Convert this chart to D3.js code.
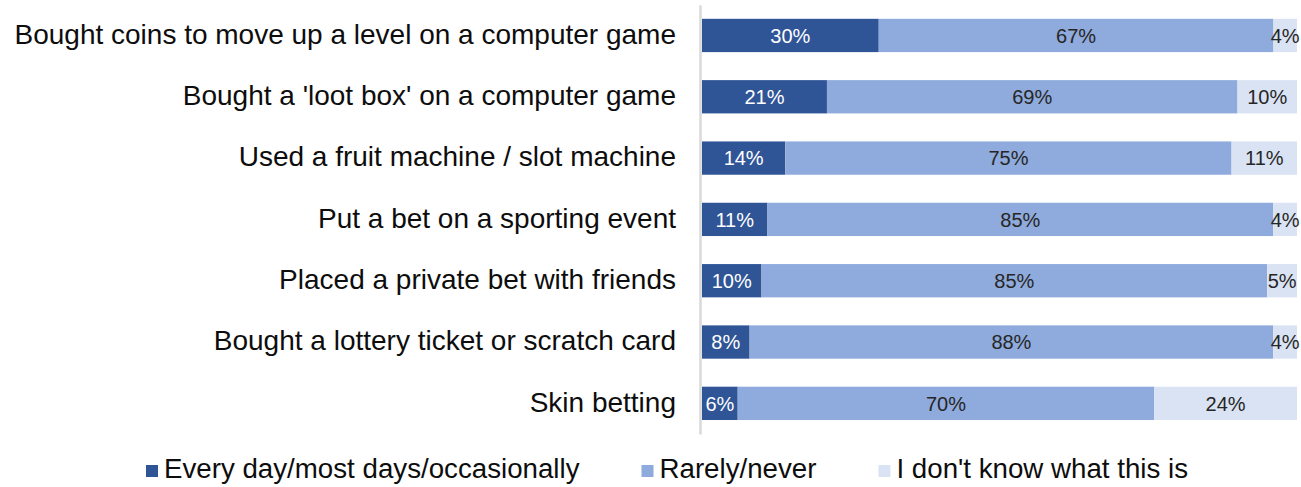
<!DOCTYPE html>
<html>
<head>
<meta charset="utf-8">
<script src="https://cdn.jsdelivr.net/npm/d3@7"></script>
<style>
  html, body { margin: 0; padding: 0; background: #ffffff; }
  svg { display: block; }
  text { font-family: "Liberation Sans", Arial, sans-serif; }
</style>
</head>
<body>
<svg id="chart" width="1301" height="487"></svg>
<script>
// Survey activities (top to bottom)
const categories = [
  "Bought coins to move up a level on a computer game",
  "Bought a 'loot box' on a computer game",
  "Used a fruit machine / slot machine",
  "Put a bet on a sporting event",
  "Placed a private bet with friends",
  "Bought a lottery ticket or scratch card",
  "Skin betting"
];
const seriesNames = [
  "Every day/most days/occasionally",
  "Rarely/never",
  "I don't know what this is"
];
// Percentages per series, one value per category
const everyDay   = [30, 21, 14, 11, 10, 8, 6];
const rarely     = [67, 69, 75, 85, 85, 88, 70];
const dontKnow   = [4, 10, 11, 4, 5, 4, 24];
const seriesColors = ["#2f5597", "#8faadc", "#dae3f3"];
const labelColors  = ["#ffffff", "#262626", "#262626"];

const rows = categories.map((c, i) => ({
  category: c, s0: everyDay[i], s1: rarely[i], s2: dontKnow[i]
}));
const keys = ["s0", "s1", "s2"];

// Rows are shown as shares of 100%, each row filling the full width
const stacked = d3.stack().keys(keys).offset(d3.stackOffsetExpand)(rows);

const svg = d3.select("#chart");

const x = d3.scaleLinear().domain([0, 1]).range([702, 1297]);
const y = d3.scaleBand()
  .domain(categories)
  .range([4.8, 434])
  .paddingInner(0.457)
  .paddingOuter(0.2285);

// Bars
const layers = svg.append("g").selectAll("g")
  .data(stacked)
  .join("g")
  .attr("fill", (d, i) => seriesColors[i]);

layers.selectAll("rect")
  .data(d => d)
  .join("rect")
  .attr("x", d => x(d[0]))
  .attr("y", d => y(d.data.category))
  .attr("width", d => x(d[1]) - x(d[0]))
  .attr("height", y.bandwidth());

// Value labels centred on each segment
const labelLayers = svg.append("g").selectAll("g")
  .data(stacked)
  .join("g")
  .attr("fill", (d, i) => labelColors[i]);

labelLayers.selectAll("text")
  .data(d => d.map(p => ({ p, key: d.key })))
  .join("text")
  .attr("x", d => (x(d.p[0]) + x(d.p[1])) / 2)
  .attr("y", d => y(d.p.data.category) + y.bandwidth() / 2)
  .attr("dy", "0.36em")
  .attr("text-anchor", "middle")
  .attr("font-size", 20)
  .text(d => d.p.data[d.key] + "%");

// Category axis
const yAxis = d3.axisLeft(y).tickSize(0).tickPadding(24);
const axisG = svg.append("g")
  .attr("transform", "translate(700,0)")
  .call(yAxis);
axisG.select(".domain")
  .attr("stroke", "#d9d9d9")
  .attr("stroke-width", 2.5);
axisG.selectAll(".tick text")
  .attr("font-size", 28)
  .attr("fill", "#0d0d0d")
  .attr("font-family", "'Liberation Sans', Arial, sans-serif")
  .attr("dy", "0.3em");

// Legend
const legend = svg.append("g").attr("transform", "translate(0,471)");
const items = legend.selectAll("g")
  .data(seriesNames)
  .join("g");
items.append("rect")
  .attr("width", 12)
  .attr("height", 12)
  .attr("y", -6)
  .attr("fill", (d, i) => seriesColors[i]);
items.append("text")
  .attr("x", 18)
  .attr("dy", "0.27em")
  .attr("font-size", 27.7)
  .attr("fill", "#0d0d0d")
  .text(d => d);

let widths = [];
items.each(function () {
  widths.push(18 + d3.select(this).select("text").node().getComputedTextLength());
});
const gap = 62;
const total = d3.sum(widths) + gap * (widths.length - 1);
let cx = 667 - total / 2;
items.each(function (d, i) {
  d3.select(this).attr("transform", `translate(${cx},0)`);
  cx += widths[i] + gap;
});
</script>
</body>
</html>
